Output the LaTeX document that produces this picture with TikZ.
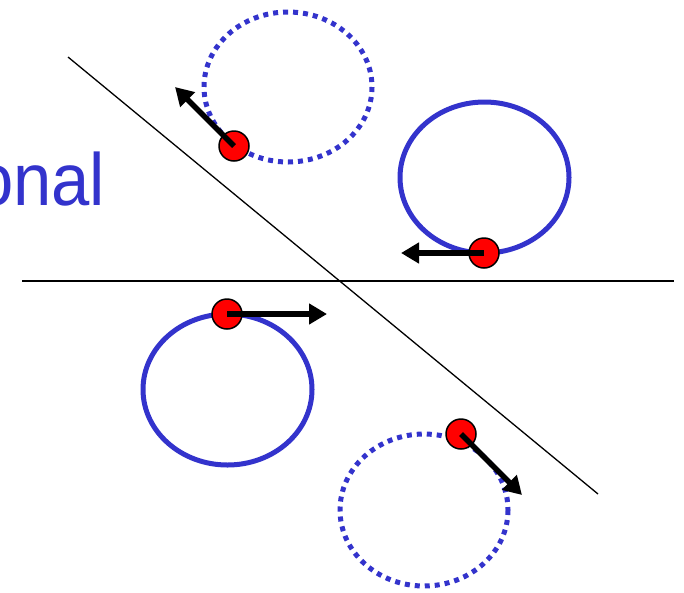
\documentclass[tikz,border=0pt]{standalone}
\usepackage{fontspec}
\usepackage{graphicx}
\setmainfont{Liberation Sans}
\usetikzlibrary{arrows.meta}
\definecolor{myblue}{RGB}{51,51,204}
\tikzset{
  solidloop/.style={draw=myblue, line width=5pt},
  dottedloop/.style={draw=myblue, line width=5pt, dash pattern=on 5pt off 5pt},
  ball/.style={circle, fill=red, draw=black, line width=1.5pt, minimum size=30pt, inner sep=0pt},
  vel/.style={line width=5.5pt, -{Triangle[length=18pt,width=20pt]}},
  axisline/.style={draw=black, line width=1.3pt}
}
\begin{document}
\begin{tikzpicture}[x=1pt,y=-1pt]
\useasboundingbox (0,0) rectangle (684,592);
% lines
\coordinate (h1) at (22,281);
\coordinate (h2) at (674,281);
\coordinate (d1) at (68,57);
\coordinate (d2) at (598,494);
\draw[axisline] (h1) -- (h2);
\draw[axisline] (d1) -- (d2);
% text
\node[anchor=base east, inner sep=0pt, text=myblue, font=\fontsize{74}{84}\selectfont] (txt) at (105.5,205) {\scalebox{0.93}[1]{onal}};
% loops
\draw[dottedloop] (288,87) ellipse [x radius=84, y radius=75];
\draw[solidloop] (484.5,177.5) ellipse [x radius=84.5, y radius=75.5];
\draw[solidloop] (227.5,389.5) ellipse [x radius=84.5, y radius=75.5];
\draw[dottedloop] (424,510) ellipse [x radius=84, y radius=76];
% balls
\node[ball] (b1) at (234,146) {};
\node[ball] (b2) at (484,253) {};
\node[ball] (b3) at (227,314) {};
\node[ball] (b4) at (461,434) {};
% arrow tips
\coordinate (t1) at (175,87);
\coordinate (t2) at (401,253);
\coordinate (t3) at (327,314);
\coordinate (t4) at (522,495);
\draw[vel] (b1.center) -- (t1);
\draw[vel] (b2.center) -- (t2);
\draw[vel] (b3.center) -- (t3);
\draw[vel] (b4.center) -- (t4);
\end{tikzpicture}
\end{document}
